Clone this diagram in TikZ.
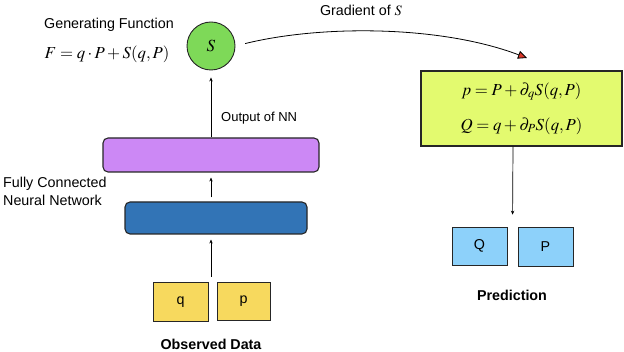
\documentclass[tikz,border=0pt]{standalone}
\usepackage{amsmath}
\usepackage{mathptmx}
\usepackage{fontspec}
\setmainfont{Liberation Sans}
\usetikzlibrary{arrows.meta,calc}
\definecolor{cgen}{HTML}{7ED958}
\definecolor{cout}{HTML}{CC88F5}
\definecolor{chid}{HTML}{3274B6}
\definecolor{cobs}{HTML}{F7D95E}
\definecolor{cupd}{HTML}{E3FA6F}
\definecolor{cpred}{HTML}{8DD1FA}
\definecolor{cgrad}{HTML}{D9372A}
\tikzset{
  txt/.style={font=\fontsize{14.3}{18}\selectfont, inner sep=0pt},
  smalltxt/.style={font=\fontsize{13}{15}\selectfont, inner sep=0pt},
  boldtxt/.style={font=\fontsize{14.3}{16}\selectfont\bfseries, inner sep=0pt},
  mathtxt/.style={font=\fontsize{16.8}{18}\selectfont, inner sep=0pt},
  layer/.style={draw=black!85, line width=1.1pt, rounded corners=5pt, inner sep=0pt},
  cell/.style={draw=black!85, line width=0.6pt, inner sep=0pt, font=\fontsize{14.3}{16}\selectfont},
  sfun/.style={circle, draw=black!85, line width=0.9pt, fill=cgen, minimum size=48pt, inner sep=0pt, font=\fontsize{17}{18}\selectfont},
  pre/.style={-{Stealth[length=4pt,width=3.4pt]}, line width=0.7pt},
  grad/.style={-{Triangle[length=9pt,width=8pt,fill=cgrad]}, line width=0.8pt},
}
\begin{document}
\begin{tikzpicture}[x=1pt,y=-1pt]
\useasboundingbox (0,0) rectangle (624,352);
% generating function
\node[txt] (gflbl) at (109,25) {Generating Function};
\node[mathtxt] (gf) at (107,54) {$F = q\cdot P + S(q,P)$};
\node[sfun] (S) at (211,46) {$S$};
% network
\node[layer, fill=cout, minimum width=216pt, minimum height=34pt] (nnout) at (211,155) {};
\node[layer, fill=chid, minimum width=182pt, minimum height=32pt] (nnhid) at (216,218) {};
\node[txt, anchor=north west, align=left] (nnlbl) at (3,177) {Fully Connected\\Neural Network};
\node[cell, fill=cobs, minimum width=55pt, minimum height=39pt] (q) at (180.5,302) {q};
\node[cell, fill=cobs, minimum width=53pt, minimum height=38pt] (p) at (243.5,301) {p};
\node[boldtxt] (obslbl) at (211,344) {Observed Data};
\coordinate (obs) at (211,277);
\draw[pre, shorten >=5pt] (obs) -- (obs |- nnhid.south);
\draw[pre, shorten <=4pt, shorten >=5pt] (obs |- nnhid.north) -- (obs |- nnout.south);
\draw[pre, shorten >=7pt] (obs |- nnout.north) -- (S);
\node[smalltxt, anchor=west] (outlbl) at (221,118) {Output of NN};
% gradient and prediction
\node[txt] (gradlbl) at (361,10) {Gradient of $S$};
\coordinate (gradtip) at (527,58);
\draw[grad, shorten <=10pt] (S.east) .. controls (320,25) and (440,25) .. (gradtip);
\node[draw=black!85, line width=1.2pt, fill=cupd, minimum width=201pt, minimum height=75pt, inner sep=0pt, align=center, font=\fontsize{16.8}{35}\selectfont] (upd) at (521.5,108.5) {$p = P + \partial_q S(q,P)$\\$Q = q + \partial_P S(q,P)$};
\node[cell, fill=cpred, minimum width=55pt, minimum height=38pt] (Q) at (479.5,246) {Q};
\node[cell, fill=cpred, minimum width=55pt, minimum height=39pt] (P) at (545.5,246.5) {P};
\node[boldtxt] (predlbl) at (512,295) {Prediction};
\draw[pre, shorten >=12pt] (upd.south -| 513,0) -- ($(Q.north)!0.5!(P.north)$);
\end{tikzpicture}
\end{document}
